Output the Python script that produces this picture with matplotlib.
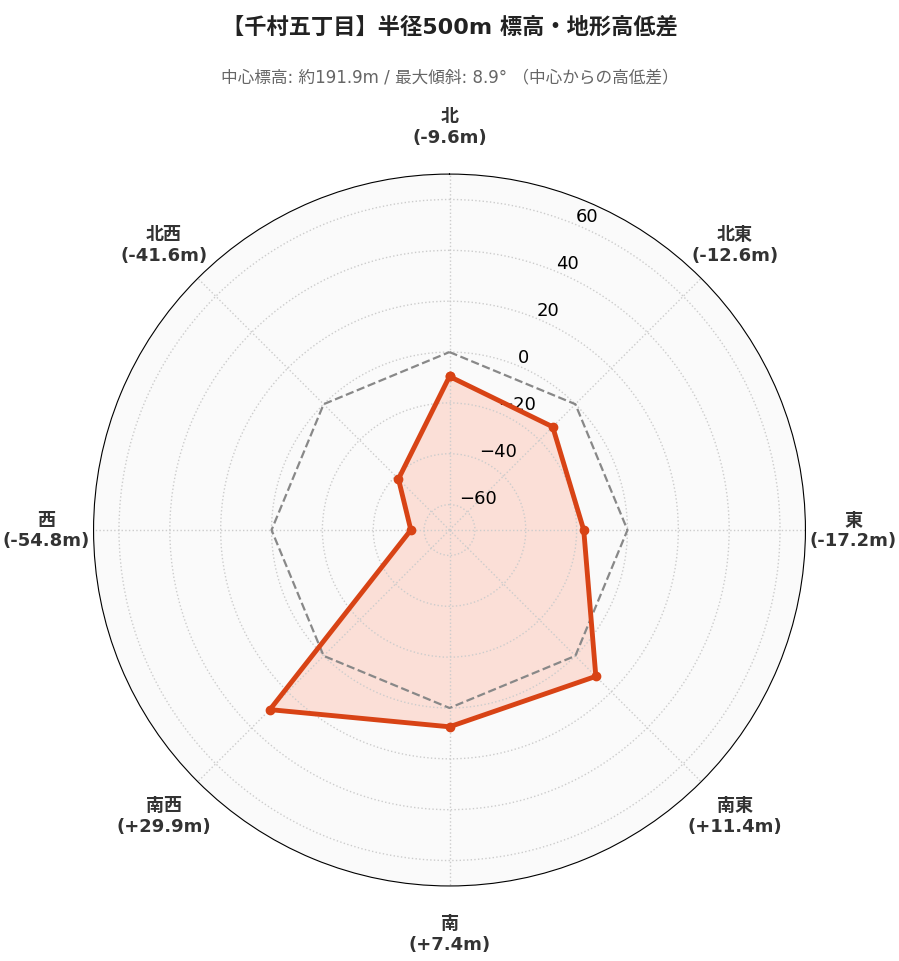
import matplotlib
matplotlib.use("Agg")
import matplotlib.pyplot as plt
import numpy as np

plt.rcParams['font.family'] = ['DejaVu Sans', 'Noto Sans CJK JP']

direcoes = ["北", "北東", "東", "南東", "南", "南西", "西", "北西"]
valores = [-9.6, -12.6, -17.2, 11.4, 7.4, 29.9, -54.8, -41.6]
rticks = [-60, -40, -20, 0, 20, 40, 60]

angulos = np.linspace(0, 2 * np.pi, len(direcoes), endpoint=False)
ang_f = np.concatenate([angulos, angulos[:1]])
val_f = valores + valores[:1]

fig = plt.figure(figsize=(8.99, 9.62), dpi=100)
ax = fig.add_axes([0.104, 0.078, 0.792, 0.74], projection='polar')
ax.set_theta_zero_location('N')
ax.set_theta_direction(-1)
ax.set_facecolor('#FAFAFA')
ax.set_ylim(-70, 70)

ax.plot(ang_f, [0] * len(ang_f), color='#888888', linestyle='--', linewidth=1.6)
ax.fill(ang_f, val_f, color='#FCDDD4', alpha=0.9)
ax.plot(ang_f, val_f, color='#D84315', linewidth=3.5, marker='o', markersize=6)

ax.set_xticks(angulos)
ax.set_xticklabels([f"{d}\n({v:+.1f}m)" for d, v in zip(direcoes, valores)],
                   fontsize=13, fontweight='bold', color='#333333')
ax.tick_params(axis='x', pad=24)
ax.set_yticks(rticks)
ax.set_yticklabels([str(t).replace('-', '\u2212') for t in rticks], fontsize=13)
ax.set_rlabel_position(22.5)
ax.grid(color='#CCCCCC', linestyle=':', linewidth=1)
ax.spines['polar'].set_color('black')

fig.text(0.5, 0.972, "【千村五丁目】半径500m 標高・地形高低差", ha='center', va='center',
         fontsize=16, fontweight='bold', color='#222222')
fig.text(0.5, 0.92, "中心標高: 約191.9m / 最大傾斜: 8.9° （中心からの高低差）", ha='center',
         va='center', fontsize=12, color='#666666')

fig.savefig("out.png", dpi=100)
